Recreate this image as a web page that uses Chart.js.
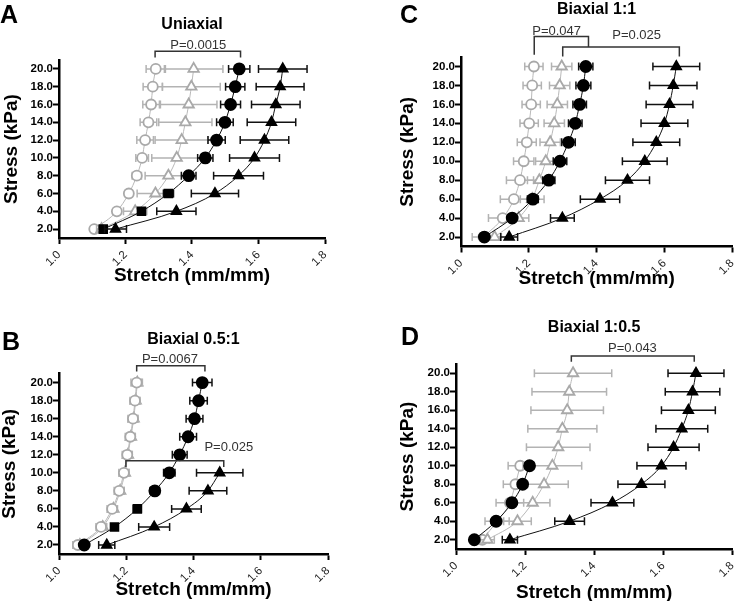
<!DOCTYPE html>
<html>
<head>
<meta charset="utf-8">
<script src="https://cdn.jsdelivr.net/npm/chart.js@4.4.1/dist/chart.umd.min.js"></script>
<style>
  html, body { margin: 0; padding: 0; background: #fff; overflow: hidden; width: 746px; height: 601px; }
  canvas { position: absolute; }
</style>
</head>
<body>
<canvas id="panelA" width="373" height="320" style="left:0;top:0"></canvas>
<canvas id="panelC" width="373" height="320" style="left:373px;top:0"></canvas>
<canvas id="panelB" width="373" height="320" style="left:0;top:300px"></canvas>
<canvas id="panelD" width="373" height="320" style="left:373px;top:300px"></canvas>
<script>
Chart.defaults.font.family = "'Liberation Sans', Arial, sans-serif";

const stress = [2, 4, 6, 8, 10, 12, 14, 16, 18, 20];
const stretchTicks = [1.0, 1.2, 1.4, 1.6, 1.8];

// A - uniaxial
const aGreyCircle = [1.106, 1.174, 1.210, 1.234, 1.250, 1.259, 1.269, 1.277, 1.282, 1.291];
const aGreyCircleErr = [0.005, 0.008, 0.01, 0.014, 0.019, 0.025, 0.025, 0.025, 0.029, 0.029];
const aGreyTri = [1.128, 1.229, 1.290, 1.329, 1.354, 1.369, 1.380, 1.390, 1.398, 1.405];
const aGreyTriErr = [0.015, 0.035, 0.055, 0.07, 0.075, 0.08, 0.08, 0.085, 0.087, 0.088];
const aBlackCircle = [1.133, 1.248, 1.329, 1.390, 1.440, 1.474, 1.499, 1.516, 1.530, 1.542];
const aBlackCircleErr = [0.006, 0.01, 0.015, 0.022, 0.023, 0.026, 0.025, 0.03, 0.029, 0.032];
const aBlackTri = [1.170, 1.353, 1.469, 1.540, 1.588, 1.618, 1.639, 1.652, 1.665, 1.673];
const aBlackTriErr = [0.033, 0.059, 0.071, 0.075, 0.075, 0.073, 0.073, 0.073, 0.072, 0.073];

// B - biaxial 0.5:1
const bGreyCircle = [1.056, 1.125, 1.158, 1.179, 1.193, 1.203, 1.212, 1.220, 1.226, 1.231];
const bGreyCircleErr = [0.015, 0.015, 0.015, 0.015, 0.015, 0.015, 0.015, 0.015, 0.015, 0.017];
const bGreyTri = [1.062, 1.130, 1.162, 1.182, 1.196, 1.205, 1.214, 1.222, 1.228, 1.233];
const bGreyTriErr = [0.012, 0.012, 0.012, 0.012, 0.012, 0.012, 0.012, 0.012, 0.012, 0.012];
const bBlackCircle = [1.075, 1.165, 1.233, 1.285, 1.328, 1.359, 1.384, 1.403, 1.415, 1.426];
const bBlackCircleErr = [0.008, 0.01, 0.012, 0.014, 0.017, 0.022, 0.025, 0.025, 0.026, 0.029];
const bBlackTri = [1.142, 1.283, 1.379, 1.443, 1.478];
const bBlackTriErr = [0.024, 0.046, 0.044, 0.056, 0.069];

// C - biaxial 1:1
const cGreyCircle = [1.066, 1.123, 1.156, 1.174, 1.185, 1.194, 1.201, 1.207, 1.210, 1.215];
const cGreyCircleErr = [0.033, 0.042, 0.04, 0.04, 0.03, 0.028, 0.027, 0.027, 0.027, 0.027];
const cGreyTri = [1.099, 1.170, 1.210, 1.231, 1.250, 1.263, 1.275, 1.284, 1.291, 1.297];
const cGreyTriErr = [0.02, 0.03, 0.035, 0.035, 0.03, 0.03, 0.03, 0.03, 0.03, 0.03];
const cBlackCircle = [1.069, 1.151, 1.212, 1.259, 1.292, 1.317, 1.337, 1.350, 1.361, 1.368];
const cBlackCircleErr = [0.01, 0.012, 0.016, 0.018, 0.02, 0.02, 0.02, 0.02, 0.022, 0.021];
const cBlackTri = [1.142, 1.299, 1.410, 1.491, 1.542, 1.576, 1.600, 1.615, 1.626, 1.635];
const cBlackTriErr = [0.025, 0.035, 0.058, 0.065, 0.066, 0.069, 0.069, 0.069, 0.07, 0.069];

// D - biaxial 1:0.5
const dGreyCircle = [1.076, 1.119, 1.156, 1.172, 1.186];
const dGreyCircleErr = [0.02, 0.035, 0.04, 0.035, 0.035];
const dGreyTri = [1.091, 1.178, 1.222, 1.255, 1.279, 1.296, 1.308, 1.322, 1.328, 1.339];
const dGreyTriErr = [0.02, 0.04, 0.05, 0.07, 0.085, 0.092, 0.10, 0.105, 0.108, 0.112];
const dBlackCircle = [1.053, 1.116, 1.162, 1.193, 1.213];
const dBlackCircleErr = [0.008, 0.01, 0.01, 0.01, 0.012];
const dBlackTri = [1.156, 1.329, 1.453, 1.537, 1.595, 1.630, 1.654, 1.673, 1.685, 1.695];
const dBlackTriErr = [0.022, 0.043, 0.062, 0.068, 0.071, 0.074, 0.075, 0.078, 0.079, 0.081];

const H = 320;

const styles = {
  greyCircle: { pointStyle: "circle", r: 5, stroke: "#a9a9a9", fill: "#fff", line: "#b8b8b8", err: "#b3b3b3" },
  greyTri: { pointStyle: "triangle", r: 6, stroke: "#a9a9a9", fill: "#fff", line: "#b8b8b8", err: "#b3b3b3" },
  blackCircle: { pointStyle: "circle", r: 5.5, stroke: "#000", fill: "#000", line: "#111", err: "#111" },
  blackTri: { pointStyle: "triangle", r: 5.5, stroke: "#000", fill: "#000", line: "#111", err: "#111" },
};

function series(xs, errs, st, pointStyle) {
  return {
    data: xs.map((x, i) => ({ x: x, y: stress[i] })),
    errors: errs,
    errColor: st.err,
    showLine: true,
    cubicInterpolationMode: "monotone",
    borderColor: st.line,
    borderWidth: 1,
    pointStyle: pointStyle || st.pointStyle,
    pointRadius: st.r,
    pointBorderColor: st.stroke,
    pointBackgroundColor: st.fill,
    pointBorderWidth: 1.8,
  };
}

// horizontal error bars, drawn just under each dataset
const errorBars = {
  id: "errorBars",
  beforeDatasetDraw(chart, args) {
    const ds = chart.data.datasets[args.index];
    if (!ds.errors) return;
    const { ctx, scales: { x, y } } = chart;
    ctx.save();
    ctx.strokeStyle = ds.errColor;
    ctx.lineWidth = 1.5;
    ds.data.forEach((p, i) => {
      const e = ds.errors[i];
      const xl = x.getPixelForValue(p.x - e);
      const xr = x.getPixelForValue(p.x + e);
      const yy = y.getPixelForValue(p.y);
      ctx.beginPath();
      ctx.moveTo(xl, yy); ctx.lineTo(xr, yy);
      ctx.moveTo(xl, yy - 4); ctx.lineTo(xl, yy + 4);
      ctx.moveTo(xr, yy - 4); ctx.lineTo(xr, yy + 4);
      ctx.stroke();
    });
    ctx.restore();
  },
};

// panel letter, title and significance brackets
const decor = {
  id: "decor",
  afterDraw(chart, args, opts) {
    const { ctx, chartArea, scales: { x, y } } = chart;
    ctx.save();
    ctx.fillStyle = "#000";
    ctx.textBaseline = "alphabetic";
    ctx.textAlign = "left";
    ctx.font = "bold 25px 'Liberation Sans', Arial, sans-serif";
    ctx.fillText(opts.letter, opts.letterX, opts.letterY);

    ctx.font = "bold 16px 'Liberation Sans', Arial, sans-serif";
    ctx.textAlign = "center";
    ctx.textBaseline = "middle";
    ctx.fillText(opts.title, (chartArea.left + chartArea.right) / 2, opts.titleY);

    ctx.strokeStyle = "#333";
    ctx.fillStyle = "#333";
    ctx.lineWidth = 1.5;
    ctx.font = "13px 'Liberation Sans', Arial, sans-serif";
    ctx.textBaseline = "alphabetic";
    (opts.brackets || []).forEach((b) => {
      const x1 = x.getPixelForValue(b.from);
      const x2 = x.getPixelForValue(b.to);
      const yt = y.getPixelForValue(b.top);
      ctx.beginPath();
      ctx.moveTo(x1, y.getPixelForValue(b.leftEnd));
      ctx.lineTo(x1, yt);
      ctx.lineTo(x2, yt);
      ctx.lineTo(x2, y.getPixelForValue(b.rightEnd));
      ctx.stroke();
      ctx.fillText(b.label, x.getPixelForValue(b.labelX), y.getPixelForValue(b.labelY));
    });
    ctx.restore();
  },
};

function makePanel(id, p, datasets) {
  return new Chart(document.getElementById(id), {
    type: "scatter",
    data: { datasets: datasets },
    plugins: [errorBars, decor],
    options: {
      responsive: false,
      animation: false,
      devicePixelRatio: 1,
      layout: { padding: { left: 0, top: p.top, right: 373 - p.right, bottom: 0 } },
      scales: {
        x: {
          type: "linear",
          min: 1.0,
          max: 1.8,
          afterBuildTicks: (s) => { s.ticks = stretchTicks.map((v) => ({ value: v })); },
          afterFit: (s) => { s.height = H - p.bottom; },
          border: { color: "#000", width: 2.5 },
          grid: { drawOnChartArea: false, drawTicks: true, tickLength: 6, tickWidth: 2, tickColor: "#000" },
          ticks: {
            minRotation: 45,
            maxRotation: 45,
            padding: 4,
            color: "#222",
            font: { size: 11.5 },
            callback: (v) => Number(v).toFixed(1),
          },
          title: {
            display: true,
            text: "Stretch (mm/mm)",
            color: "#000",
            font: { size: 19, weight: "bold", lineHeight: 1 },
            padding: { top: 0, bottom: p.xTitlePad },
          },
        },
        y: {
          type: "linear",
          min: 1,
          max: 21,
          afterBuildTicks: (s) => { s.ticks = stress.map((v) => ({ value: v })); },
          afterFit: (s) => { s.width = p.left; },
          border: { color: "#000", width: 2.5 },
          grid: { drawOnChartArea: false, drawTicks: true, tickLength: 6, tickWidth: 2, tickColor: "#000" },
          ticks: {
            padding: 0,
            color: "#000",
            font: { size: 11.5, weight: "bold" },
            callback: (v) => Number(v).toFixed(1),
          },
          title: {
            display: true,
            text: "Stress (kPa)",
            color: "#000",
            font: { size: 19, weight: "bold", lineHeight: 1 },
            padding: { top: p.yTitlePad, bottom: 0 },
          },
        },
      },
      plugins: {
        legend: { display: false },
        tooltip: { enabled: false },
        decor: p.decor,
      },
    },
  });
}

makePanel("panelA",
  { left: 59, right: 325, top: 60, bottom: 238, xTitlePad: 34.5, yTitlePad: 2.5,
    decor: { letter: "A", letterX: 0, letterY: 23, title: "Uniaxial", titleY: 25,
      brackets: [
        { from: 1.289, to: 1.546, top: 21.97, leftEnd: 21.29, rightEnd: 21.29, label: "P=0.0015", labelX: 1.419, labelY: 22.25 },
      ] } },
  [
    series(aBlackTri, aBlackTriErr, styles.blackTri),
    series(aBlackCircle, aBlackCircleErr, styles.blackCircle, ["rect", "rect", "rect", "circle", "circle", "circle", "circle", "circle", "circle", "circle"]),
    series(aGreyTri, aGreyTriErr, styles.greyTri),
    series(aGreyCircle, aGreyCircleErr, styles.greyCircle),
  ]);

makePanel("panelC",
  { left: 88, right: 371, top: 57, bottom: 246.5, xTitlePad: 31.5, yTitlePad: 25.5,
    decor: { letter: "C", letterX: 27, letterY: 23, title: "Biaxial 1:1", titleY: 9.5,
      brackets: [
        { from: 1.216, to: 1.376, top: 23.17, leftEnd: 21.24, rightEnd: 22.05, label: "P=0.047", labelX: 1.282, labelY: 23.35 },
        { from: 1.300, to: 1.644, top: 22.05, leftEnd: 21.06, rightEnd: 21.06, label: "P=0.025", labelX: 1.518, labelY: 22.93 },
      ] } },
  [
    series(cBlackTri, cBlackTriErr, styles.blackTri),
    series(cBlackCircle, cBlackCircleErr, styles.blackCircle),
    series(cGreyTri, cGreyTriErr, styles.greyTri),
    series(cGreyCircle, cGreyCircleErr, styles.greyCircle),
  ]);

// grey circles sit over the grey triangles here
makePanel("panelB",
  { left: 59, right: 328, top: 73.6, bottom: 254, xTitlePad: 20.5, yTitlePad: 0,
    decor: { letter: "B", letterX: 2, letterY: 50, title: "Biaxial 0.5:1", titleY: 40,
      brackets: [
        { from: 1.231, to: 1.434, top: 21.88, leftEnd: 21.23, rightEnd: 21.23, label: "P=0.0067", labelX: 1.330, labelY: 22.18 },
        { from: 1.199, to: 1.490, top: 11.35, leftEnd: 10.65, rightEnd: 10.65, label: "P=0.025", labelX: 1.505, labelY: 12.42 },
      ] } },
  [
    series(bBlackTri, bBlackTriErr, styles.blackTri),
    series(bBlackCircle, bBlackCircleErr, styles.blackCircle, ["circle", "rect", "rect", "circle", "circle", "circle", "circle", "circle", "circle", "circle"]),
    series(bGreyCircle, bGreyCircleErr, styles.greyCircle),
    series(bGreyTri, bGreyTriErr, styles.greyTri),
  ]);

makePanel("panelD",
  { left: 83, right: 363, top: 64, bottom: 249, xTitlePad: 17.5, yTitlePad: 25.5,
    decor: { letter: "D", letterX: 28, letterY: 45, title: "Biaxial 1:0.5", titleY: 27.5,
      brackets: [
        { from: 1.334, to: 1.690, top: 21.87, leftEnd: 21.25, rightEnd: 21.25, label: "P=0.043", labelX: 1.511, labelY: 22.3 },
      ] } },
  [
    series(dBlackTri, dBlackTriErr, styles.blackTri),
    series(dBlackCircle, dBlackCircleErr, styles.blackCircle),
    series(dGreyTri, dGreyTriErr, styles.greyTri),
    series(dGreyCircle, dGreyCircleErr, styles.greyCircle),
  ]);
</script>
</body>
</html>
